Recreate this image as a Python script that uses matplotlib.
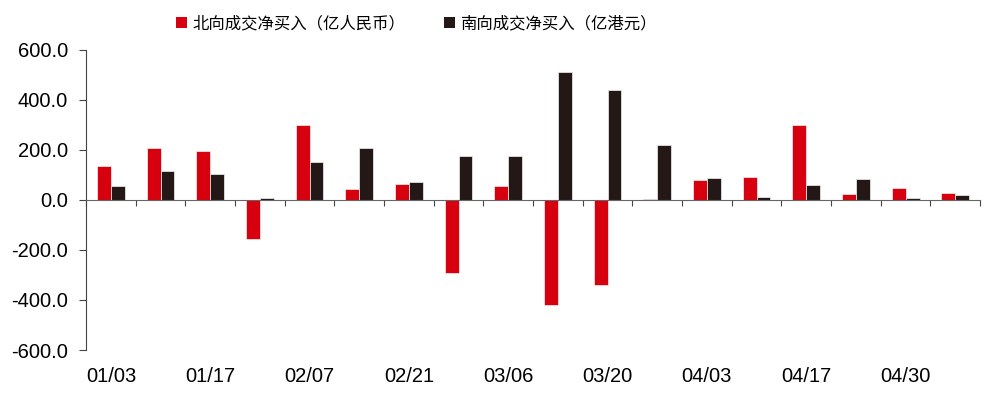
import numpy as np
import matplotlib
matplotlib.use('Agg')
import matplotlib.pyplot as plt
from matplotlib.patches import Patch
from matplotlib.ticker import FixedLocator

plt.rcParams['font.family'] = ['Liberation Sans', 'Noto Sans CJK SC', 'DejaVu Sans']

# weekly dates (only every other one is labelled)
dates = ['01/03', '01/10', '01/17', '01/24', '02/07', '02/14', '02/21', '02/28', '03/06',
         '03/13', '03/20', '03/27', '04/03', '04/10', '04/17', '04/24', '04/30', '05/08']
north = [135, 208, 196, -156, 301, 43, 64, -293, 57,
         -419, -339, 5, 81, 93, 301, 24, 49, 28]
south = [55, 115, 103, 8, 151, 209, 72, 175, 175,
         511, 439, 219, 87, 13, 60, 83, 8, 19]
yticks = [-600, -400, -200, 0, 200, 400, 600]

red = '#D7000F'
dark = '#231815'

fig = plt.figure(figsize=(9.89, 3.98), dpi=100)
ax = fig.add_axes([0.087, 0.1206, 0.904, 0.7538])

x = np.arange(len(dates))
w = 0.28
ax.bar(x - w / 2, north, width=w, color=red, edgecolor='#f2f2f2', linewidth=0.5)
ax.bar(x + w / 2, south, width=w, color=dark, edgecolor='#f2f2f2', linewidth=0.5)

ax.set_xlim(-0.5, len(dates) - 0.5)
ax.set_ylim(-600, 600)
ax.set_yticks(yticks)
ax.set_yticklabels(['%.1f' % v for v in yticks], fontsize=14.5)
ax.tick_params(axis='y', direction='out', length=5, width=0.8, pad=8, color='#444444')

# x axis line sits at zero, ticks between groups, labels down at the bottom
ax.spines['bottom'].set_position(('data', 0))
ax.spines['bottom'].set_color('#666666')
ax.spines['left'].set_color('#444444')
ax.spines['top'].set_visible(False)
ax.spines['right'].set_visible(False)
ax.xaxis.set_minor_locator(FixedLocator(np.arange(len(dates) + 1) - 0.5))
ax.tick_params(axis='x', which='minor', direction='out', length=4.5, width=0.8, color='#444444')
ax.set_xticks(x[::2])
ax.set_xticklabels(dates[::2], fontsize=14.5)
ax.tick_params(axis='x', which='major', length=0, pad=120)

handles = [Patch(facecolor=red, label='北向成交净买入（亿人民币）'),
           Patch(facecolor=dark, label='南向成交净买入（亿港元）')]
fig.legend(handles=handles, loc='center', bbox_to_anchor=(0.421, 0.94), ncol=2, frameon=False,
           prop={'family': ['Noto Sans CJK SC', 'DejaVu Sans'], 'size': 11.8, 'weight': 'medium'},
           handlelength=0.65, handleheight=0.65, handletextpad=0.3, columnspacing=2.4)

fig.savefig('out.png', dpi=100)
